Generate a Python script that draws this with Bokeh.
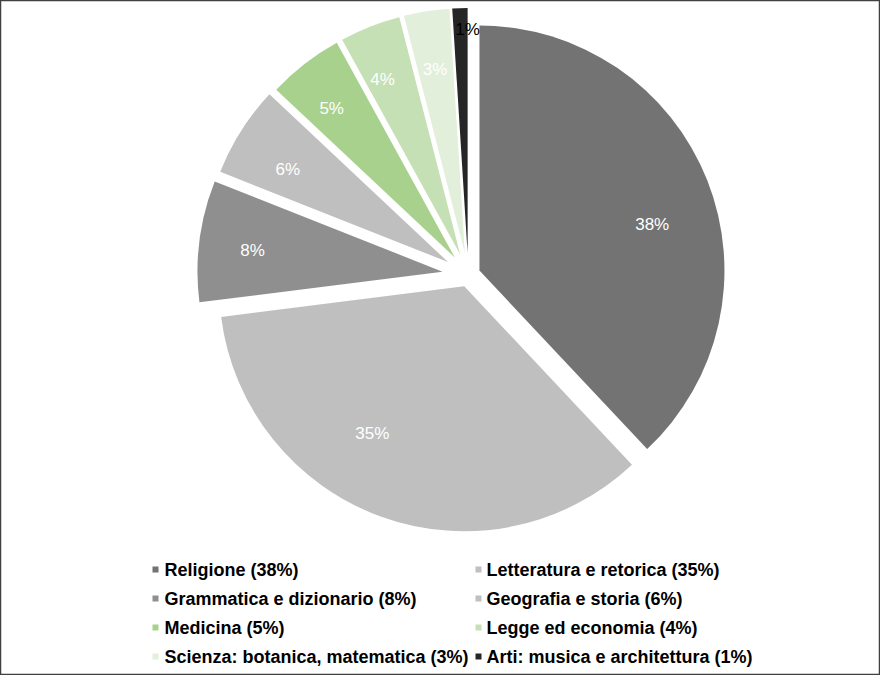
import math
from bokeh.plotting import figure
from bokeh.models import Range1d, ColumnDataSource
from bokeh.core.properties import value
from bokeh.embed import file_html
from bokeh.resources import INLINE

# ---- data ----
categories = ["Religione", "Letteratura e retorica", "Grammatica e dizionario",
              "Geografia e storia", "Medicina", "Legge ed economia",
              "Scienza: botanica, matematica", "Arti: musica e architettura"]
shares = [38, 35, 8, 6, 5, 4, 3, 1]

# ---- styles ----
colors = ["#737373", "#bfbfbf", "#8f8f8f", "#bfbfbf", "#a9d18e", "#c5e0b4", "#e2efda", "#262626"]
label_colors = ["#ffffff"] * 7 + ["#000000"]
explode = [12, 12, 26, 24, 22, 22, 22, 22]          # px offset of each slice
label_frac = [0.73, 0.71, 0.78, 0.755, 0.79, 0.78, 0.76, 0.91]
label_shift = [6.6, 12.1, -0.9, -2.4, -1.7, -2.4, -0.2, 1.8]  # degrees clockwise

W, H = 880, 675
CX, CY = 467.8, H - 274.4   # pie centre (px, y up)
R = 245

p = figure(width=W, height=H, output_backend="svg", toolbar_location=None,
           x_range=Range1d(0, W), y_range=Range1d(0, H),
           x_axis_type=None, y_axis_type=None, min_border=0,
           background_fill_color="white", border_fill_color="white")
p.grid.visible = False
p.outline_line_color = "#404040"
p.outline_line_width = 1.5

total = sum(shares)
cum = 0.0
xs, ys, sa, ea, cols = [], [], [], [], []
lx, ly, ltxt = [], [], []
for i, s in enumerate(shares):
    t1 = cum / total * 360.0
    t2 = (cum + s) / total * 360.0
    mid = (t1 + t2) / 2.0
    vx = CX + explode[i] * math.sin(math.radians(mid))
    vy = CY + explode[i] * math.cos(math.radians(mid))
    xs.append(vx); ys.append(vy)
    sa.append(math.radians(90 - t1)); ea.append(math.radians(90 - t2))
    cols.append(colors[i])
    la = math.radians(mid + label_shift[i])
    lx.append(vx + label_frac[i] * R * math.sin(la))
    ly.append(vy + label_frac[i] * R * math.cos(la))
    ltxt.append(f"{round(s / total * 100)}%")
    cum += s

src = ColumnDataSource(dict(x=xs, y=ys, sa=sa, ea=ea, c=cols))
p.wedge(x="x", y="y", radius=R, start_angle="sa", end_angle="ea",
        direction="clock", fill_color="c", line_color=None, source=src)

lsrc = ColumnDataSource(dict(x=lx, y=ly, t=ltxt, c=label_colors))
p.text(x="x", y="y", text="t", text_color="c", text_align="center",
       text_baseline="middle", text_font=value("Liberation Sans"),
       text_font_size="17px", source=lsrc)

# ---- legend (two columns, row-major) ----
row_y = [569, 598, 627, 656]
col_marker_x = [155, 478]
col_text_x = [164, 486]
mx, my, tx, ty, tt, mc = [], [], [], [], [], []
for i, (cat, s) in enumerate(zip(categories, shares)):
    r, c = divmod(i, 2)
    mx.append(col_marker_x[c]); my.append(H - row_y[r])
    tx.append(col_text_x[c]); ty.append(H - row_y[r])
    tt.append(f"{cat} ({s}%)")
    mc.append(colors[i])

p.scatter(x=mx, y=my, marker="square", size=6, fill_color=mc, line_color=None)
p.text(x=tx, y=ty, text=tt, text_color="#000000", text_align="left",
       text_baseline="middle", text_font=value("Liberation Sans"),
       text_font_size="18px", text_font_style="bold")

open("out.html", "w").write(file_html(p, INLINE))
